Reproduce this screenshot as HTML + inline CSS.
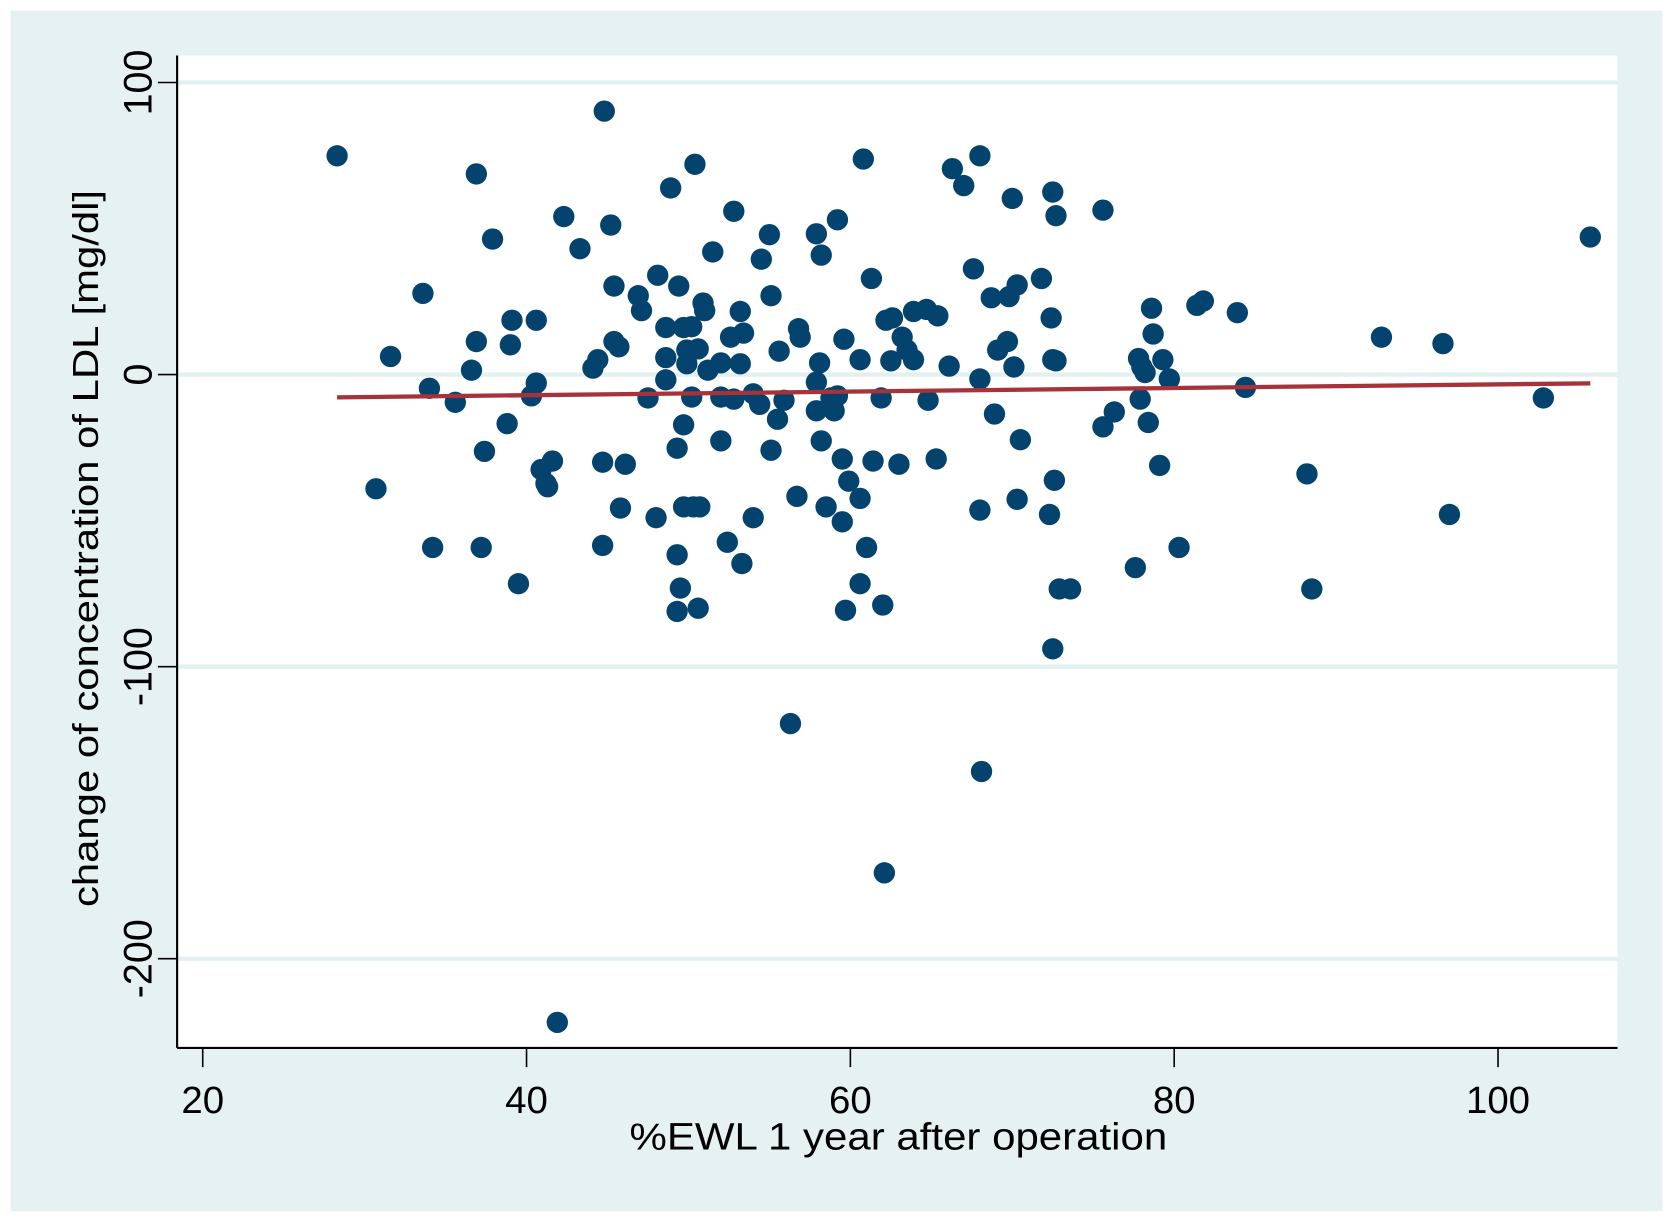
<!DOCTYPE html>
<html><head><meta charset="utf-8"><style>
html,body{margin:0;padding:0;background:#fff;}
svg{display:block;}
text{font-family:"Liberation Sans",Arial,sans-serif;fill:#000;}
</style></head><body>
<svg id="chart" width="1673" height="1224" viewBox="0 0 1568 1147" preserveAspectRatio="none" xmlns="http://www.w3.org/2000/svg">
<rect x="10" y="10" width="1548" height="1125" fill="#e6f1f1"/>
<rect x="166" y="52" width="1350" height="930" fill="#ffffff"/>
<g id="grid"></g>
<g id="points"></g>
<g id="fit"></g>
<g id="axes"></g>
</svg>
<script>
const xs = [28.3,44.8,36.9,37.9,31.6,33.6,34.0,35.6,36.9,36.6,30.7,34.2,37.2,37.4,38.8,39.0,39.1,39.5,40.6,40.6,40.3,40.9,41.2,41.6,41.3,41.9,42.3,43.3,44.1,44.4,44.7,44.7,45.2,45.4,45.4,45.7,45.8,46.1,46.9,47.1,47.5,48.0,48.1,48.6,48.6,48.6,48.9,49.4,49.3,49.3,49.3,49.5,49.7,49.7,49.7,49.9,49.9,50.2,50.2,50.3,50.4,50.6,50.7,50.6,50.9,51.0,51.2,51.5,52.0,52.0,52.0,52.4,52.6,52.8,52.8,53.2,53.2,53.4,53.3,54.0,54.0,54.4,54.5,55.0,55.1,55.1,55.5,55.6,55.9,56.3,56.7,56.8,56.9,57.9,57.9,57.9,58.1,58.2,58.2,58.5,58.8,59.0,59.2,59.2,59.6,59.5,59.5,59.7,59.9,60.6,60.6,60.6,60.8,61.0,61.3,61.4,61.9,62.0,62.1,62.2,62.6,62.5,63.0,63.2,63.5,63.9,63.9,64.7,64.8,65.4,65.3,66.1,66.3,67.0,67.6,68.0,68.0,68.0,68.1,68.7,68.9,69.1,69.7,69.8,70.0,70.1,70.3,70.3,70.5,71.8,72.3,72.4,72.5,72.5,72.6,72.5,72.7,72.7,72.9,73.6,75.6,75.6,76.3,77.6,77.9,77.8,78.0,78.2,78.4,78.6,78.7,79.1,79.3,79.7,80.3,81.4,81.8,83.9,84.4,88.2,88.5,92.8,96.6,97.0,102.8,105.7];
const ys = [74.9,90.2,68.7,46.4,6.2,27.8,-4.7,-9.5,11.3,1.5,-39.1,-59.2,-59.2,-26.3,-16.8,10.2,18.6,-71.6,18.6,-2.9,-7.3,-32.5,-37.3,-29.6,-38.4,-221.8,54.1,43.1,2.2,5.1,-30.0,-58.5,51.2,30.3,11.3,9.5,-45.7,-30.7,27.0,21.9,-8.0,-49.0,34.0,16.1,5.8,-1.8,63.9,30.3,-25.2,-61.7,-81.1,-73.1,16.1,-17.2,-45.3,3.7,8.4,16.4,-7.7,-45.3,72.0,8.8,-45.3,-80.0,24.5,21.9,1.5,42.0,-7.7,4.0,-22.7,-57.4,12.8,55.9,-8.4,3.7,21.6,14.2,-64.7,-49.0,-6.6,-10.2,39.5,47.9,-25.9,27.0,-15.3,8.0,-8.8,-119.5,-41.7,15.7,12.8,48.2,-2.6,-12.4,4.0,40.9,-22.7,-45.3,-8.0,-12.4,-7.3,53.0,12.1,-28.9,-50.4,-80.7,-36.5,5.1,-42.4,-71.6,73.8,-59.2,32.9,-29.6,-8.0,-78.9,-170.6,18.6,19.4,4.7,-30.7,12.8,8.4,5.1,21.6,22.3,-8.8,20.1,-28.9,2.9,70.5,64.7,36.2,-1.5,74.9,-46.4,-135.9,26.3,-13.5,8.4,11.3,26.7,60.3,2.6,30.7,-42.7,-22.3,32.9,-47.9,19.4,62.5,5.1,-36.2,-93.9,54.4,4.7,-73.4,-73.4,56.3,-17.9,-12.8,-66.1,-8.4,5.5,2.6,0.7,-16.4,22.7,13.9,-31.1,5.1,-1.5,-59.2,23.7,25.2,21.2,-4.4,-34.0,-73.4,12.8,10.6,-47.9,-8.0,47.1];
const fitX = [28.3, 105.7];
const fitY = [-7.8, -3.0];
const xTicks = [20,40,60,80,100];
const yTicks = [100,0,-100,-200];

const NS = "http://www.w3.org/2000/svg";
function sx(v){ return 190 + (v-20)*15.175; }
function sy(v){ return 351 - v*2.737; }
function mk(tag, attrs, parent){ const e=document.createElementNS(NS,tag); for(const k in attrs) e.setAttribute(k,attrs[k]); parent.appendChild(e); return e; }

const grid=document.getElementById('grid'), pts=document.getElementById('points'), fit=document.getElementById('fit'), axes=document.getElementById('axes');
yTicks.forEach(t=>{
  const g=mk('line',{x1:166,x2:1516,y1:sy(t),y2:sy(t),stroke:'#e3f0f0','stroke-width':4},grid);
  
  
});
xs.forEach((x,i)=>{
  const c=mk('circle',{cx:sx(x),cy:sy(ys[i]),r:10,fill:'#03436e'},pts);
  
  
});
const fl=mk('line',{x1:sx(fitX[0]),y1:sy(fitY[0]),x2:sx(fitX[1]),y2:sy(fitY[1]),stroke:'#a6323a','stroke-width':4},fit);



const ya=mk('line',{x1:166,x2:166,y1:52,y2:982,stroke:'#000','stroke-width':2},axes);


const xa=mk('line',{x1:166,x2:1516,y1:982,y2:982,stroke:'#000','stroke-width':2},axes);


xTicks.forEach(t=>{
  const l=mk('line',{x1:sx(t),x2:sx(t),y1:982,y2:1000,stroke:'#000','stroke-width':1.5},axes);
  
  
  const tx=mk('text',{x:sx(t),y:1043,'text-anchor':'middle','font-size':36},axes);
  tx.textContent=t;
  
  
});
yTicks.forEach(t=>{
  const l=mk('line',{x1:148,x2:166,y1:sy(t),y2:sy(t),stroke:'#000','stroke-width':1.5},axes);
  
  
  const tx=mk('text',{x:0,y:0,'text-anchor':'middle','font-size':37,transform:`translate(142,${sy(t)}) rotate(-90)`},axes);
  tx.textContent=t;
  
  
});
const xt=mk('text',{x:842,y:1077,'text-anchor':'middle','font-size':36,textLength:504,lengthAdjust:'spacingAndGlyphs'},axes);
xt.textContent='%EWL 1 year after operation';


const yt=mk('text',{x:0,y:0,'text-anchor':'middle','font-size':34,textLength:672,lengthAdjust:'spacingAndGlyphs',transform:'translate(92,514) rotate(-90)'},axes);
yt.textContent='change of concentration of LDL [mg/dl]';


</script>
</body></html>
